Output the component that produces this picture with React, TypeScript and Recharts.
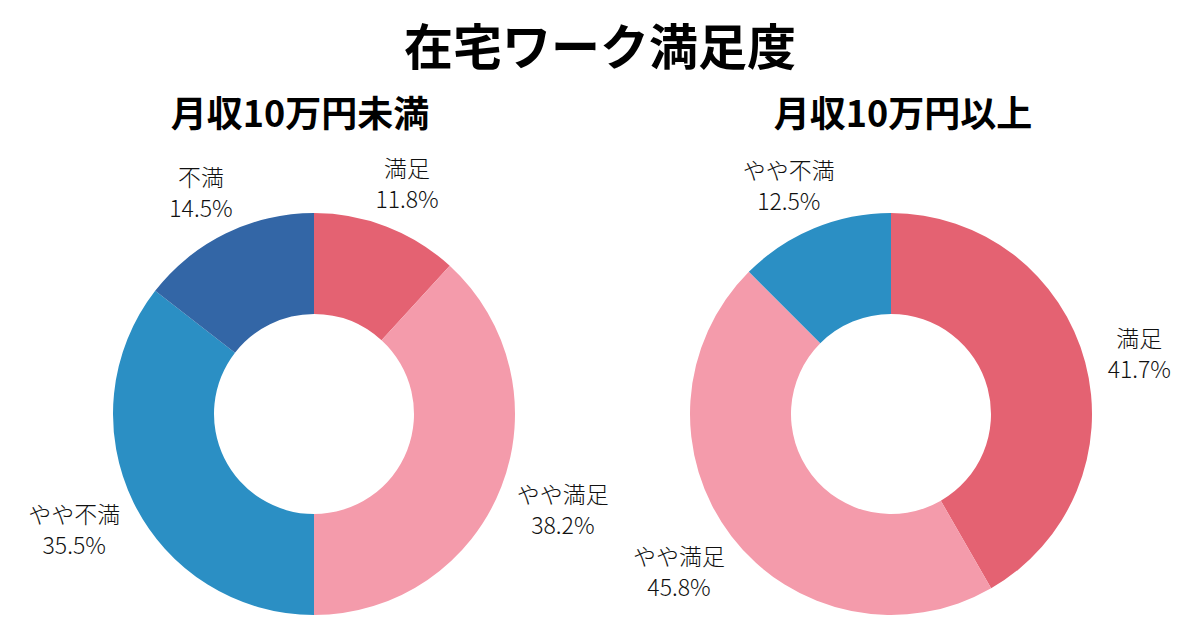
import { Cell, Pie, PieChart } from "recharts";

const categories = ["満足", "やや満足", "やや不満", "不満"];
const colors = ["#E46272", "#F49BAB", "#2B8FC4", "#3366A6"];
const under100k = [11.8, 38.2, 35.5, 14.5];
const over100k = [41.7, 45.8, 12.5, 0];

const FONT = '"Noto Sans CJK JP", "Noto Sans", sans-serif';
const RAD = Math.PI / 180;

const toData = (values: number[]) =>
  categories
    .map((name, i) => ({ name, value: values[i], color: colors[i] }))
    .filter((d) => d.value > 0);

function renderLabel(props: any) {
  const { cx, cy, midAngle, payload } = props;
  const r = 222;
  const ux = Math.cos(-midAngle * RAD);
  const uy = Math.sin(-midAngle * RAD);
  const name: string = payload.name;
  const w = Math.max(name.length * 22.5, 70);
  const h = 60;
  const x = cx + r * ux + (w / 2) * ux;
  const y = cy + r * uy + (h / 2) * uy;
  return (
    <text
      x={x}
      y={y}
      textAnchor="middle"
      fontFamily={FONT}
      fontSize={23}
      fontWeight={300}
      fill="#111"
    >
      <tspan x={x} y={y - 12} dominantBaseline="central">
        {name}
      </tspan>
      <tspan x={x} y={y + 19} dominantBaseline="central">
        {payload.value.toFixed(1)}%
      </tspan>
    </text>
  );
}

const heading = (text: string, center: number, top: number, size: number) => (
  <div
    style={{
      position: "absolute",
      left: center - 300,
      width: 600,
      top,
      textAlign: "center",
      fontFamily: FONT,
      fontWeight: 700,
      fontSize: size,
      lineHeight: 1,
      color: "#000",
    }}
  >
    {text}
  </div>
);

export default function App() {
  const left = toData(under100k);
  const right = toData(over100k);
  return (
    <div
      style={{
        position: "absolute",
        left: 0,
        top: 0,
        width: 1200,
        height: 630,
        background: "#fff",
        overflow: "hidden",
      }}
    >
      {heading("在宅ワーク満足度", 600, 19, 49)}
      {heading("月収10万円未満", 300, 93, 36)}
      {heading("月収10万円以上", 903, 93, 36)}
      <div style={{ position: "absolute", left: 0, top: 0 }}>
        <PieChart
          width={1200}
          height={630}
          margin={{ top: 0, right: 0, bottom: 0, left: 0 }}
        >
          <Pie
            data={left}
            dataKey="value"
            cx={314}
            cy={414}
            innerRadius={100}
            outerRadius={201}
            startAngle={90}
            endAngle={-270}
            stroke="none"
            label={renderLabel}
            labelLine={false}
            isAnimationActive={false}
          >
            {left.map((d, i) => (
              <Cell key={i} fill={d.color} />
            ))}
          </Pie>
          <Pie
            data={right}
            dataKey="value"
            cx={891}
            cy={414}
            innerRadius={100}
            outerRadius={201}
            startAngle={90}
            endAngle={-270}
            stroke="none"
            label={renderLabel}
            labelLine={false}
            isAnimationActive={false}
          >
            {right.map((d, i) => (
              <Cell key={i} fill={d.color} />
            ))}
          </Pie>
        </PieChart>
      </div>
    </div>
  );
}
